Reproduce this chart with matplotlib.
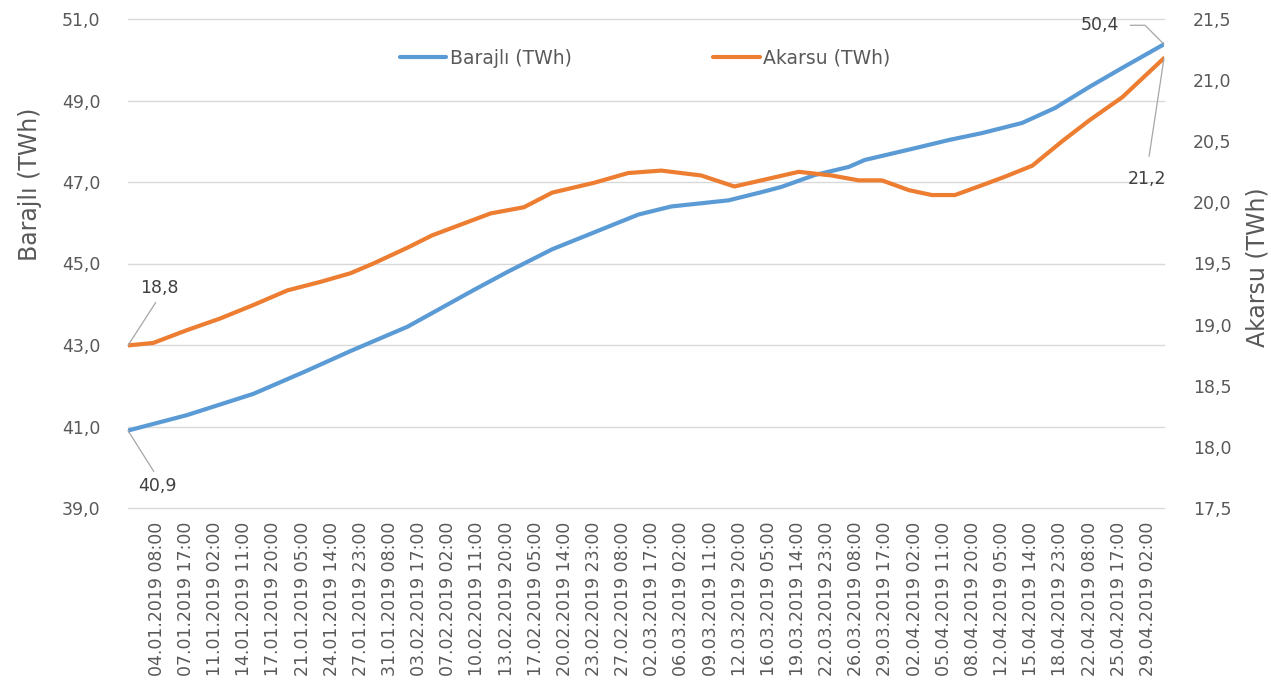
import matplotlib
matplotlib.use("Agg")
import matplotlib.pyplot as plt
from matplotlib.ticker import FuncFormatter
import pandas as pd

# Barajlı (left axis, TWh)
barajli_times = [
    "01.01.2019 00:00", "07.01.2019 20:00", "15.01.2019 12:00", "21.01.2019 07:00",
    "26.01.2019 18:00", "02.02.2019 09:00", "10.02.2019 01:00", "14.02.2019 00:00",
    "19.02.2019 03:00", "01.03.2019 02:00", "04.03.2019 22:00", "11.03.2019 13:00",
    "15.03.2019 08:00", "17.03.2019 16:00", "21.03.2019 12:00", "25.03.2019 11:00",
    "27.03.2019 07:00", "02.04.2019 03:00", "06.04.2019 01:00", "09.04.2019 21:00",
    "14.04.2019 13:00", "18.04.2019 09:00", "22.04.2019 07:00", "26.04.2019 03:00",
    "30.04.2019 23:00",
]
barajli_values = [
    40.90, 41.28, 41.80, 42.33, 42.85, 43.45, 44.35, 44.80,
    45.35, 46.20, 46.40, 46.55, 46.75, 46.88, 47.17, 47.37,
    47.54, 47.83, 48.03, 48.20, 48.45, 48.82, 49.33, 49.80,
    50.38,
]

# Akarsu (right axis, TWh)
akarsu_times = [
    "01.01.2019 00:00", "03.01.2019 22:00", "07.01.2019 20:00", "11.01.2019 16:00",
    "15.01.2019 12:00", "19.01.2019 11:00", "23.01.2019 07:00", "26.01.2019 18:00",
    "29.01.2019 10:00", "02.02.2019 09:00", "05.02.2019 05:00", "12.02.2019 00:00",
    "15.02.2019 20:00", "19.02.2019 03:00", "23.02.2019 23:00", "27.02.2019 22:00",
    "03.03.2019 18:00", "08.03.2019 09:00", "12.03.2019 05:00", "15.03.2019 08:00",
    "19.03.2019 16:00", "23.03.2019 11:00", "26.03.2019 15:00", "29.03.2019 07:00",
    "01.04.2019 10:00", "04.04.2019 02:00", "06.04.2019 18:00", "09.04.2019 21:00",
    "12.04.2019 13:00", "15.04.2019 17:00", "19.04.2019 04:00", "22.04.2019 07:00",
    "26.04.2019 03:00", "30.04.2019 23:00",
]
akarsu_values = [
    18.83, 18.85, 18.955, 19.05, 19.16, 19.28, 19.35, 19.42,
    19.50, 19.63, 19.73, 19.91, 19.96, 20.08, 20.16, 20.24,
    20.26, 20.22, 20.13, 20.18, 20.25, 20.22, 20.18, 20.18,
    20.10, 20.06, 20.06, 20.14, 20.21, 20.30, 20.50, 20.67,
    20.86, 21.18,
]

tick_start = "04.01.2019 08:00"
tick_count = 35
tick_step = "81h"

BLUE = "#5B9BD5"
ORANGE = "#ED7D31"
GRID = "#D9D9D9"
TEXT = "#595959"
LABEL = "#404040"

fmt = "%d.%m.%Y %H:%M"
tb = pd.to_datetime(barajli_times, format=fmt)
ta = pd.to_datetime(akarsu_times, format=fmt)
ticks = pd.date_range(pd.to_datetime(tick_start, format=fmt), periods=tick_count, freq=tick_step)

plt.rcParams["font.family"] = ["DejaVu Sans"]

fig = plt.figure(figsize=(12.71, 6.91), dpi=100)
ax = fig.add_axes([128 / 1271, 1 - 508 / 691, (1164 - 128) / 1271, (508 - 19) / 691])
ax2 = ax.twinx()

l1, = ax.plot(tb, barajli_values, color=BLUE, lw=3, solid_capstyle="round", label="Barajlı (TWh)")
l2, = ax2.plot(ta, akarsu_values, color=ORANGE, lw=3, solid_capstyle="round", label="Akarsu (TWh)")

ax.set_xlim(tb[0], tb[-1])
ax.set_ylim(39, 51)
ax.set_yticks(range(39, 52, 2))
ax2.set_ylim(17.5, 21.5)
ax2.set_yticks([17.5 + 0.5 * i for i in range(9)])

comma = FuncFormatter(lambda v, p: f"{v:.1f}".replace(".", ","))
ax.yaxis.set_major_formatter(comma)
ax2.yaxis.set_major_formatter(comma)

ax.set_xticks(ticks)
ax.set_xticklabels([t.strftime(fmt) for t in ticks], rotation=90, fontsize=12.5, color=TEXT)

ax.grid(axis="y", color=GRID, lw=1)
for g in ax.get_ygridlines():
    g.set_clip_on(False)
ax.set_axisbelow(True)
for a in (ax, ax2):
    for s in a.spines.values():
        s.set_visible(False)
ax.tick_params(axis="x", length=0, pad=10)
ax.tick_params(axis="y", length=0, pad=20, labelsize=12.5, labelcolor=TEXT)
ax2.tick_params(axis="y", length=0, pad=21, labelsize=12.5, labelcolor=TEXT)

fig.text(30 / 1271, 1 - 184 / 691, "Barajlı (TWh)", rotation=90, ha="center", va="center",
         fontsize=17, color=TEXT)
fig.text(1257 / 1271, 1 - 267 / 691, "Akarsu (TWh)", rotation=90, ha="center", va="center",
         fontsize=17, color=TEXT)

leg = ax.legend(handles=[l1, l2], loc="center", bbox_to_anchor=(645 / 1271, 1 - 58 / 691),
                bbox_transform=fig.transFigure, ncol=2, frameon=False, fontsize=13.5,
                handlelength=2.5, handletextpad=0.2, columnspacing=7.5)
for t in leg.get_texts():
    t.set_color(TEXT)

# end-point data labels with leader lines
lead = dict(arrowstyle="-", color="#A6A6A6", lw=0.9, shrinkA=2, shrinkB=0)
ax.annotate(f"{barajli_values[0]:.1f}".replace(".", ","), xy=(tb[0], barajli_values[0]),
            xytext=(29, -55), textcoords="offset pixels", ha="center", va="center",
            fontsize=12.5, color=LABEL, arrowprops=dict(lead, relpos=(0.5, 1.0)))
ax2.annotate(f"{akarsu_values[0]:.1f}".replace(".", ","), xy=(ta[0], akarsu_values[0]),
             xytext=(31, 57), textcoords="offset pixels", ha="center", va="center",
             fontsize=12.5, color=LABEL, arrowprops=dict(lead, relpos=(0.5, 0.0)))
ax.annotate(f"{barajli_values[-1]:.1f}".replace(".", ","), xy=(tb[-1], barajli_values[-1]),
            xytext=(-64, 19), textcoords="offset pixels", ha="center", va="center",
            fontsize=12.5, color=LABEL,
            arrowprops=dict(lead, relpos=(1.0, 0.5), shrinkA=6,
                            connectionstyle="angle,angleA=0,angleB=135,rad=0"))
ax2.annotate(f"{akarsu_values[-1]:.1f}".replace(".", ","), xy=(ta[-1], akarsu_values[-1]),
             xytext=(-17, -121), textcoords="offset pixels", ha="center", va="center",
             fontsize=12.5, color=LABEL, arrowprops=dict(lead, relpos=(0.5, 1.0), shrinkA=8))

fig.savefig("out.png", dpi=100)
